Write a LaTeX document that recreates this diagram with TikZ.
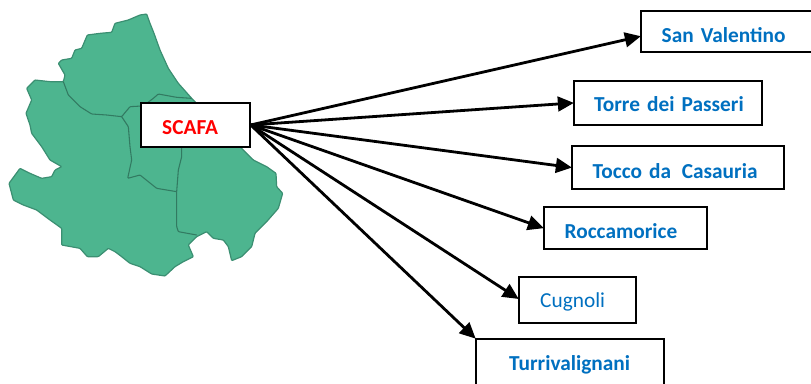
\documentclass[tikz,border=0pt]{standalone}
\usepackage{fontspec}
\setmainfont{Carlito}
\usetikzlibrary{arrows.meta}
\definecolor{mapgreen}{HTML}{4DB58F}
\definecolor{mapline}{HTML}{3B8F72}
\definecolor{townblue}{HTML}{0070C0}
\tikzset{
  mapfill/.style={fill=mapgreen,draw=mapline,line width=0.9pt,rounded corners=0.6pt},
  mapborder/.style={draw=mapline!85!black,line width=0.8pt,rounded corners=0.6pt},
  link/.style={draw=black,line width=2.1pt,-{Triangle[length=12pt,width=11pt]},shorten >=-0.5pt},
  boxbase/.style={draw=black,fill=white,line width=1.5pt,inner sep=0pt,align=left,font=\fontsize{16}{18}\selectfont},
  townbold/.style={boxbase,text=townblue,font=\fontsize{16}{18}\selectfont\bfseries},
  townplain/.style={boxbase,text=townblue},
  hubbox/.style={boxbase,text=red,font=\fontsize{16}{18}\selectfont\bfseries}
}
% name, style, x0, y0, x1, y1, text x, baseline y, text (all in reference pixels)
\newcommand{\placebox}[9]{%
  \pgfmathsetmacro{\bw}{(#5-#3)*0.75}%
  \pgfmathsetmacro{\bup}{(#8-#4)*0.75}%
  \pgfmathsetmacro{\bdn}{(#6-#8)*0.75}%
  \pgfmathsetmacro{\bpad}{(#7-#3)*0.75}%
  \node[#2,anchor=north west,text width=\bw pt,text height=\bup pt,text depth=\bdn pt] (#1) at (#3,#4) {\hspace*{\bpad pt}#9};%
}
\begin{document}
\begin{tikzpicture}[x=0.75pt,y=-0.75pt]
\useasboundingbox (0.8,0.8) rectangle (811.8,383.8);
\begin{scope}[x=0.25pt,y=-0.25pt,xshift=0.6pt,yshift=-0.6pt]
\path[mapfill] (440,42)--(450,70)--(462,100)--(480,150)--(505,205)--(535,250)--(575,295)--(600,320)
 --(725,445)--(760,480)--(800,500)--(828,520)--(830,560)--(848,580)--(835,625)--(800,665)--(765,700)
 --(755,740)--(725,770)--(695,782)--(685,740)--(670,720)--(640,715)--(620,695)--(590,710)--(565,735)
 --(580,770)--(550,785)--(525,800)--(495,828)--(455,822)--(420,800)--(390,790)--(365,770)--(345,755)
 --(325,745)--(295,770)--(262,770)--(240,745)--(185,735)--(185,685)--(150,660)--(110,630)--(70,615)
 --(40,600)--(27,550)--(60,505)--(90,520)--(125,535)--(155,530)--(165,510)--(185,500)--(150,480)
 --(125,440)--(95,400)--(90,375)--(78,340)--(95,300)--(80,265)--(105,240)--(150,245)--(190,245)
 --(195,225)--(175,190)--(185,180)--(215,175)--(225,150)--(245,145)--(262,105)--(300,100)--(335,97)
 --(345,70)--(385,60)--(420,45)--cycle;
\path[mapborder] (190,245)--(205,285)--(240,320)--(275,342)--(320,345)--(365,350)--(390,320)--(425,318);
\path[mapborder] (365,350)--(385,380)--(390,440)--(395,480)--(383,535)--(420,525)--(470,565)--(530,575);
\path[mapborder] (440,310)--(460,295)--(475,282)--(530,292)--(575,295);
\path[mapborder] (545,440)--(545,470)--(535,510)--(530,575)--(530,680)--(535,695)--(590,705);
\end{scope}
\placebox{scafa}{hubbox}{141}{103}{249.5}{146.5}{162}{134}{SCAFA}
\placebox{sv}{townbold}{641}{11}{818}{52}{661.5}{42}{San Valentino}
\placebox{tp}{townbold}{574}{80.5}{762}{125}{594}{111.5}{Torre dei Passeri}
\placebox{tc}{townbold}{572}{146}{784}{188.5}{592.5}{178}{Tocco da\ \,Casauria}
\placebox{rc}{townbold}{544}{207}{706.5}{248.5}{564.5}{238}{Roccamorice}
\placebox{cg}{townplain}{519}{277}{635.5}{322.5}{540}{307.5}{Cugnoli}
\placebox{tv}{townbold}{476}{339}{664}{392}{509}{370}{Turrivalignani}
\draw[link] (scafa.east) -- ([yshift=-3.5pt]sv.west);
\draw[link] (scafa.east) -- (tp.west);
\draw[link] (scafa.east) -- (tc.west);
\draw[link] (scafa.east) -- (rc.west);
\draw[link] (scafa.east) -- ([yshift=1pt]cg.west);
\draw[link] (scafa.east) -- (tv.north west);
\end{tikzpicture}
\end{document}
